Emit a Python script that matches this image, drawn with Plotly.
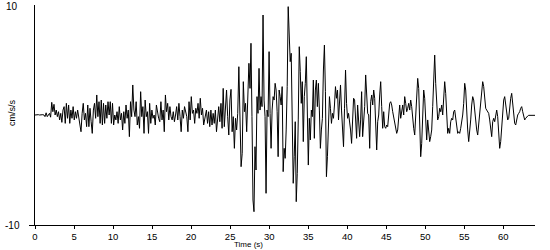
import numpy as np
import plotly.graph_objects as go

# Acceleration record (cm/s/s) in several stretches.
# Each stretch: start time (s), end time (s), evenly spaced samples.
SEG0_T = (0.0, 1.15)
SEG0_ACC = [0, 0.03, 0, 0.03, 0, 0.03, 0, 0.03, 0]

SEG1_T = (1.28, 21.61)
SEG1_ACC = [
    -0.15, 0.2, -0.15, 0, 0.15, -0.2, 1.15, 0.3, 0.97, 0, 0.45, -0.15, 0.3, -0.45, 0.15,
    -0.67, 0.45, 0.76, -0.76, 1.06, -0.3, 0.91, -0.76, 0.45, -0.3, 0.76, -0.45, 0.3, -0.3,
    0.45, -0.15, -0.76, -1.52, 0.15, 1.06, -0.45, 0.15, -1.06, 0.91, -1.06, 0.61, -0.61,
    -1.67, 0.45, 1.06, -0.3, 1.82, -0.15, 1.21, -0.76, 1.36, -0.91, 1.06, -0.76, 0.91,
    -0.3, 1.21, 0, 1.21, -0.76, 1.06, -0.91, 0, -0.45, 0.3, -0.76, 0.76, -0.45, 0.15,
    -1.36, 0.3, -0.76, 0.91, -0.3, 0.45, -1.97, 1.21, -0.15, 2.73, 0.45, -0.15, 1.21,
    -0.91, -0.15, -1.21, 2.12, -0.15, 0.76, -1.67, 1.36, -0.15, 0.3, -1.67, 1.06, -0.76,
    0.45, -0.3, 0, -0.91, 0.91, 0.15, -0.3, -0.61, 1.21, -0.45, 0.45, -1.52, 1.82, 0.3,
    1.06, -0.45, 0.76, -0.15, -0.45, 0.3, -0.61, 0, 0.76, -0.45, 1.06, -0.15, -1.52, 0.45,
    -0.3, 0.76, 0.15, -0.15, -1.52, 1.21, -0.45, 1.67, 0.15, 0.45, -0.76, 0.61, 0.15,
    1.06, -0.3, 1.52, 0, 0.61, -0.91,
]

SEG2A_T = (21.82, 27.55)
SEG2A_ACC = [
    -0.15, 0.45, -0.76, 0.3, -1.06, 0.45, -0.91, 0.15, -0.76, 0.45, -1.52, -0.3, 0.76,
    -0.61, 1.06, -1.21, 2.42, -1.06, 1.36, 2.27, -0.15, -1.82, 1.36, 2.33, -1.52, -0.15,
    -3.03, -0.3, -1.36, 0.15, 4.39, -1.67, -4.7, -3.48, 3.03, 0.3, 1.06, -1.52, 1.67,
    4.7, 2.42,
]

SEG2B_T = (27.67, 42.88)
SEG2B_ACC = [
    6.52, -0.15, -7.73, -8.79, -2.88, -5.0, 1.67, 0.15, 4.24, 0.45, 1.67, 0.76, 9.09,
    1.36, -0.15, -7.12, 0.45, -0.15, 5.76, 0.15, -3.03, 0.45, 1.67, 1.36, 2.88, 2.27, 0.3,
    -3.79, 2.27, 1.67, 0.91, 2.58, -5.15, -3.03, -3.94, -1.36, 2.58, 9.85, 5.91, 4.85,
    5.61, -1.97, -6.21, -3.79, -0.61, -7.88, -5.3, -0.45, 6.21, 3.94, 1.06, 3.03, -2.42,
    1.67, 2.88, 5.3, -1.52, -4.55, -0.3, -2.27, 0.45, -0.15, 3.18, -2.12, 2.27, 3.18,
    0.76, 2.88, 0.45, -3.03, -1.36, -0.3, 4.09, 6.36, 2.12, -5.61, -3.79, 0.45, 1.67,
    0.61, -0.76, 0.15, -0.3, 0.91, 2.58, 1.52, 2.27, -0.45, 1.52, 2.73, 0.45, -1.67,
    -2.88, 0.61, 4.09, 1.06, -0.3, 0.15, -0.45, -1.36, -2.58, -0.15, 1.52, 1.36, -0.3,
    -2.12, 0.91, -1.21, -1.97, -0.45, 2.12, -1.97, -0.76, 0.76, 3.64, 1.82, 0.15, 0,
    -3.03,
]

SEG3_T = (43.01, 64.15)
SEG3_ACC = [
    1.21, 1.82, 0.91, 2.27, 1.52, -1.67, -3.18, -0.61, 0, 1.82, 3.03, 0.76, -1.21, 0.3,
    -1.06, -1.21, -0.91, -1.06, 0, 1.06, 1.21, 0.91, 0.3, -0.15, -0.45, -1.21, -1.67,
    -1.36, -0.15, 0.91, -0.3, 0.45, 0.91, 0, 1.67, 1.06, 0.3, 0.61, 1.06, 0.45, 1.36,
    0.76, -0.45, -1.21, -1.82, -0.15, 2.27, 3.33, 2.42, -1.36, -3.79, -2.58, -0.15, 2.27,
    1.52, -0.45, -2.27, -0.45, -1.21, -2.42, -1.97, -1.36, 0.76, 4.09, 5.45, 2.88, 0.76,
    -0.45, -0.15, 0.61, 0.3, 0.91, 0, 1.21, 3.03, 1.97, 0, -1.67, -1.21, -1.67, -0.61,
    -0.3, -0.45, 0.3, 0.45, -0.45, -1.36, -1.67, -1.52, -1.67, -1.21, -0.61, 0, 1.06,
    2.88, 2.27, 0, -1.36, -2.42, -1.67, -0.45, 0.91, 1.67, 1.36, 0.15, -0.45, -1.36,
    -1.82, -0.76, 0.3, 1.52, 2.58, 3.03, 2.58, 1.52, 0.61, 0.45, 0.3, 0.15, -0.45, -1.06,
    -1.97, -0.61, -0.3, -0.61, -0.15, 0.45, -0.15, -1.67, -3.03, -2.42, -1.06, 0.3, 1.36,
    1.67, 1.06, 0.15, -0.45, -0.3, 0.76, 1.52, 1.97, 1.21, 0, -0.76, -0.91, -0.3, 0,
    0.15, 0.3, 0.61, 0.76, 0.3, 0, -0.45, -0.3, -0.15, -0.09, -0.03, -0.03, -0.03, -0.03,
    -0.03, -0.03, -0.03, -0.03,
]

SEGMENTS = [
    (SEG0_T, SEG0_ACC),
    (SEG1_T, SEG1_ACC),
    (SEG2A_T, SEG2A_ACC),
    (SEG2B_T, SEG2B_ACC),
    (SEG3_T, SEG3_ACC),
]

X_TICKS = list(range(0, 61, 5))
Y_LABELS = ["10", "-10"]
X_TITLE = "Time (s)"
Y_TITLE = "cm/s/s"

t_all, a_all = [], []
for (t0, t1), acc in SEGMENTS:
    t_all.extend(np.linspace(t0, t1, len(acc)).tolist())
    a_all.extend(acc)

FONT = "Liberation Sans, Arial, sans-serif"

fig = go.Figure()
fig.add_trace(go.Scatter(
    x=t_all, y=a_all, mode="lines",
    line=dict(color="black", width=1),
    hoverinfo="skip", showlegend=False,
))

fig.update_layout(
    width=550, height=250,
    margin=dict(l=35, r=15, t=5, b=25),
    paper_bgcolor="white", plot_bgcolor="white",
    font=dict(family=FONT, size=10, color="black"),
    xaxis=dict(
        range=[0, 64.06], showgrid=False, zeroline=False,
        showline=True, linecolor="black", linewidth=1,
        ticks="outside", ticklen=3, tickwidth=1, tickcolor="black",
        tickvals=X_TICKS, ticktext=[str(v) for v in X_TICKS],
        tickfont=dict(family=FONT, size=9.5, color="black"),
    ),
    yaxis=dict(
        range=[-10, 10], showgrid=False, zeroline=False,
        showline=True, linecolor="black", linewidth=1,
        ticks="outside", ticklen=5, tickwidth=1, tickcolor="black",
        tickvals=[-10], showticklabels=False,
    ),
    annotations=[
        dict(text=Y_LABELS[0], xref="paper", yref="paper", x=-0.062, y=0.995,
             xanchor="left", yanchor="middle", showarrow=False,
             font=dict(family=FONT, size=10, color="black")),
        dict(text=Y_LABELS[1], xref="paper", yref="paper", x=-0.064, y=0.0,
             xanchor="left", yanchor="middle", showarrow=False,
             font=dict(family=FONT, size=10, color="black")),
        dict(text=X_TITLE, xref="paper", yref="paper", x=0.426, y=-0.1136,
             xanchor="center", yanchor="bottom", showarrow=False, borderpad=0,
             font=dict(family=FONT, size=8, color="black")),
        dict(text=Y_TITLE, xref="paper", yref="paper", x=-0.045, y=0.507,
             xanchor="center", yanchor="middle", showarrow=False, textangle=-90,
             font=dict(family=FONT, size=9, color="black")),
    ],
)

fig.write_html("out.html")
